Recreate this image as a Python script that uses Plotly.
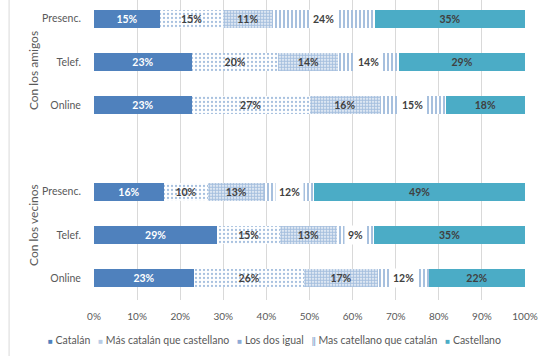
import plotly.graph_objects as go

groups = ["Con los amigos", "Con los vecinos"]
modes = ["Presenc.", "Telef.", "Online"]
series = ["Catalán", "Más catalán que castellano", "Los dos igual",
          "Mas catellano que catalán", "Castellano"]

# values per row: amigos (Presenc., Telef., Online), vecinos (Presenc., Telef., Online)
catalan = [15.3, 22.7, 22.7, 16.2, 28.6, 23.2]
mas_catalan = [14.7, 20.1, 27.3, 10.3, 14.6, 25.6]
dos_igual = [11.4, 13.9, 16.4, 13.0, 13.1, 17.0]
mas_castellano = [23.8, 14.1, 15.2, 11.6, 8.7, 11.9]
castellano = [34.8, 29.2, 18.4, 48.9, 35.0, 22.3]

x_ticks = [0, 10, 20, 30, 40, 50, 60, 70, 80, 90, 100]
x_tick_labels = ["0%", "10%", "20%", "30%", "40%", "50%", "60%", "70%", "80%", "90%", "100%"]

FONT = "Lato, 'Liberation Sans', sans-serif"
GRAY = "#595959"
DARK = "#404040"
BLUE = "#4F81BD"
TEAL = "#4BACC6"

# row positions: one blank slot between the two groups
ypos = [g * 4 + m for g in range(len(groups)) for m in range(len(modes))]
ytext = [modes[m] for g in range(len(groups)) for m in range(len(modes))]

values = [catalan, mas_catalan, dos_igual, mas_castellano, castellano]
patterns = [
    None,
    dict(shape=".", fgcolor=BLUE, bgcolor="white", size=4, solidity=0.25),
    dict(shape=".", fgcolor=BLUE, bgcolor="white", size=3, solidity=0.7),
    dict(shape="|", fgcolor=BLUE, bgcolor="white", size=4, solidity=0.5),
    None,
]
colors = [BLUE, "white", "white", "white", TEAL]
textcolors = ["white", DARK, DARK, DARK, DARK]

fig = go.Figure()
BW = 0.42
for i, (name, vals) in enumerate(zip(series, values)):
    marker = dict(color=colors[i], line=dict(width=0))
    if patterns[i] is not None:
        marker["pattern"] = patterns[i]
    show_text = i != 3
    fig.add_trace(go.Bar(
        name=name, orientation="h", x=vals, y=ypos, width=BW,
        marker=marker,
        texttemplate="<b>%{x:.0f}%</b>" if show_text else None,
        textposition="inside" if show_text else "none",
        insidetextanchor="middle",
        textfont=dict(family=FONT, size=10.5, color=textcolors[i]),
        showlegend=False,
    ))

# labels with white box for "Mas castellano que catalán" segment
for k in range(len(ypos)):
    start = catalan[k] + mas_catalan[k] + dos_igual[k]
    fig.add_annotation(
        x=start + mas_castellano[k] / 2, y=ypos[k], xref="x", yref="y",
        text="<b>%d%%</b>" % round(mas_castellano[k]), showarrow=False,
        font=dict(family=FONT, size=10.5, color=DARK),
        bgcolor="white", borderpad=3,
    )

# group labels
group_y = [0.763, 0.25]
for g, name in enumerate(groups):
    fig.add_annotation(
        x=-0.1415, y=group_y[g], xref="paper", yref="paper",
        text=name, textangle=-90, showarrow=False,
        font=dict(family=FONT, size=12, color=GRAY),
        xanchor="center", yanchor="middle",
    )

# legend (as text)
icons = [
    '<span style="color:%s;font-size:8px">■</span>' % BLUE,
    '<span style="color:#B9CCE6;font-size:8px">■</span>',
    '<span style="color:#8EAAD6;font-size:8px">■</span>',
    '<span style="color:%s;font-size:9px">‖</span>' % BLUE,
    '<span style="color:%s;font-size:8px">■</span>' % TEAL,
]
legend_text = "   ".join(icons[i] + " " + series[i] for i in range(len(series)))
fig.add_annotation(
    x=0.418, y=-0.133, xref="paper", yref="paper", text=legend_text,
    showarrow=False, xanchor="center", yanchor="middle",
    font=dict(family=FONT, size=10.5, color=GRAY),
)

# outer left border line of chart area
fig.add_shape(type="line", xref="paper", yref="paper",
              x0=-0.197, x1=-0.197, y0=-0.19, y1=1.0,
              line=dict(color="#D9D9D9", width=1))

fig.update_layout(
    barmode="stack",
    width=539, height=356,
    margin=dict(l=94, r=14, t=0, b=56),
    paper_bgcolor="white", plot_bgcolor="white",
    showlegend=False,
    font=dict(family=FONT, color=GRAY),
    xaxis=dict(
        range=[0, 100], tickvals=x_ticks, ticktext=x_tick_labels,
        showgrid=True, gridcolor="#D9D9D9", gridwidth=1,
        zeroline=False, showline=False,
        ticks="outside", ticklen=7, tickcolor="rgba(0,0,0,0)",
        tickfont=dict(family=FONT, size=10, color=GRAY),
    ),
    yaxis=dict(
        range=[6.5, -0.43], autorange=False,
        tickvals=ypos, ticktext=ytext,
        showgrid=False, zeroline=False, showline=False,
        ticks="outside", ticklen=10, tickcolor="rgba(0,0,0,0)",
        tickfont=dict(family=FONT, size=10.5, color=GRAY),
    ),
)

fig.write_html(
    "out.html",
    config={"displayModeBar": False},
    post_script="document.body.style.margin='0';document.body.style.padding='0';"
                "document.documentElement.style.overflow='hidden';",
)
